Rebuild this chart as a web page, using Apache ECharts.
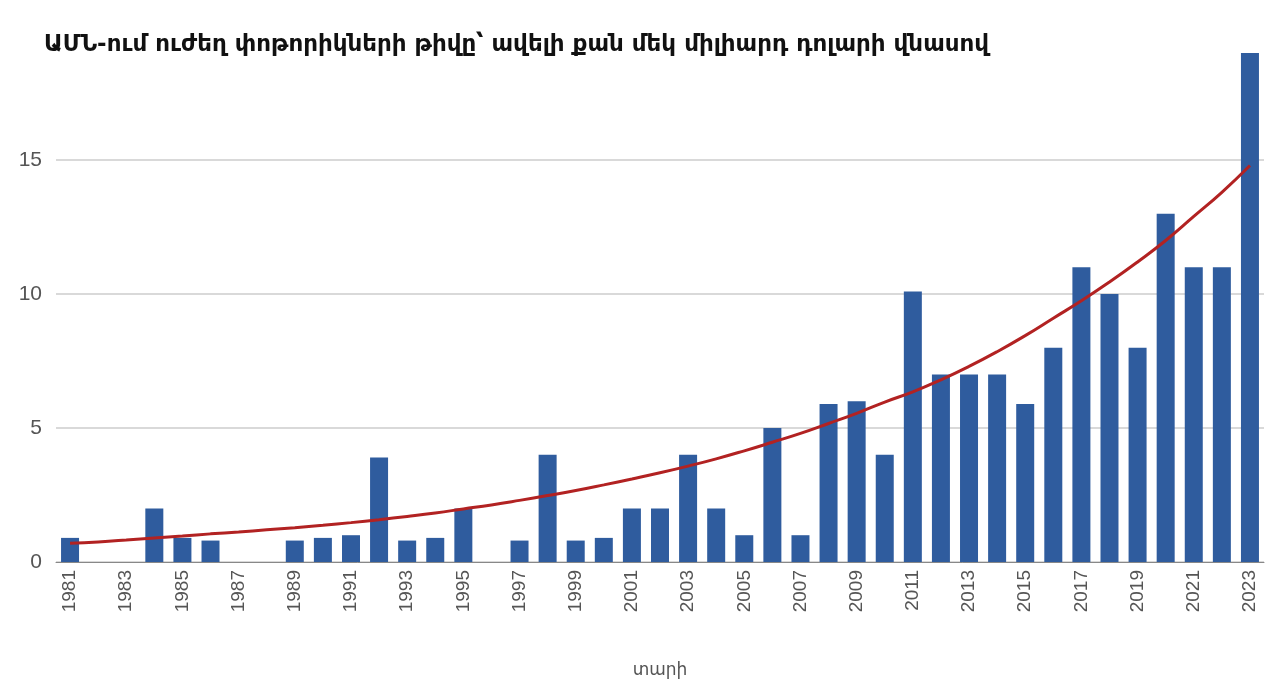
<!DOCTYPE html>
<html><head><meta charset="utf-8">
<script src="https://cdn.jsdelivr.net/npm/echarts@6/dist/echarts.min.js"></script>
<style>html,body{margin:0;padding:0;background:#fff}#c{width:1280px;height:693px}</style>
</head><body><div id="c"></div>
<script>
const years = [];
for (let y = 1981; y <= 2023; y++) years.push(String(y));
const counts = [0.9,0,0,2,0.9,0.8,0,0,0.8,0.9,1,3.9,0.8,0.9,2,0,0.8,4,0.8,0.9,2,2,4,2,1,5,1,5.9,6,4,10.1,7,7,7,5.9,8,11,10,8,13,11,11,19];
const trend = [0.7,0.75,0.82,0.9,0.97,1.05,1.12,1.2,1.28,1.37,1.47,1.58,1.7,1.83,1.98,2.13,2.3,2.48,2.67,2.88,3.1,3.33,3.58,3.85,4.15,4.47,4.8,5.17,5.55,5.97,6.35,6.8,7.3,7.85,8.45,9.1,9.75,10.45,11.2,12.0,12.9,13.8,14.8];
const yTicks = [0,5,10,15];
const chart = echarts.init(document.getElementById('c'));
chart.setOption({
  backgroundColor:'#fff',
  title:{text:'ԱՄՆ-ում ուժեղ փոթորիկների թիվը՝ ավելի քան մեկ միլիարդ դոլարի վնասով',left:38,top:28,
    backgroundColor:'#fff',padding:[6,6],
    textStyle:{fontFamily:'DejaVu Sans',fontWeight:'bold',fontSize:23,color:'#111'}},
  grid:{left:56,right:16,top:53,bottom:131},
  xAxis:{type:'category',data:years,name:'տարի',nameLocation:'middle',nameGap:100,
    nameTextStyle:{fontSize:17,color:'#555',fontFamily:'DejaVu Sans'},
    axisTick:{show:false},axisLine:{lineStyle:{color:'#888'}},
    axisLabel:{rotate:90,interval:1,fontSize:19,color:'#555',fontFamily:'Arial, Liberation Sans',margin:8}},
  yAxis:{type:'value',min:0,max:19,interval:5,
    axisLabel:{fontSize:21,color:'#555',fontFamily:'Liberation Sans',margin:14,
      formatter:v=>yTicks.includes(v)?String(v):''},
    splitLine:{showMaxLine:false,lineStyle:{color:'#ccc',width:1.5}}},
  series:[
    {type:'bar',data:counts,barWidth:18,itemStyle:{color:'#2f5c9e'},z:2},
    {type:'line',data:trend,smooth:true,symbol:'none',lineStyle:{color:'#b22222',width:3},z:3}
  ]
});
</script></body></html>
